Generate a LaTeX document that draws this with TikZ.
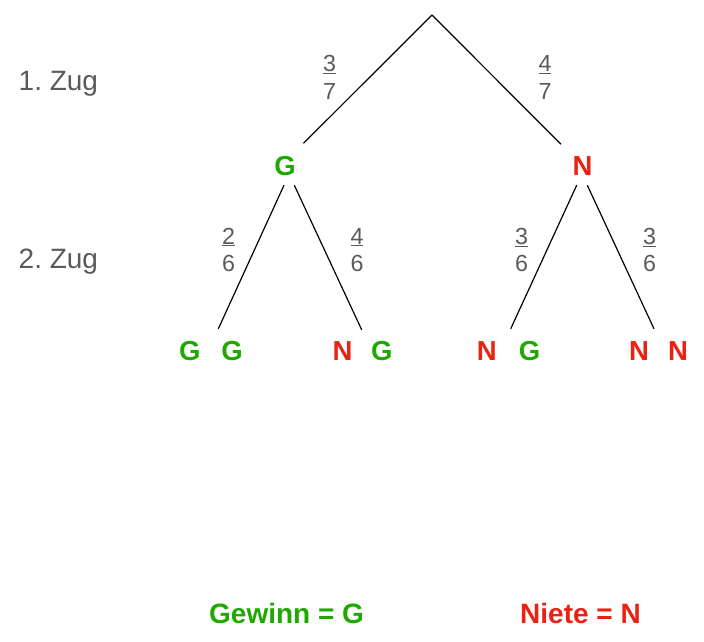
\documentclass[tikz,border=0pt]{standalone}
\usepackage{fontspec}
\setmainfont{Liberation Sans}
\frenchspacing
\definecolor{gwin}{RGB}{30,168,0}
\definecolor{niet}{RGB}{235,34,18}
\definecolor{txtgray}{RGB}{90,90,90}
\tikzset{
  letter/.style={inner sep=0pt, text height=20pt, text depth=0pt, font=\fontsize{27.5}{33}\selectfont\bfseries},
  gw/.style={letter, text=gwin},
  nt/.style={letter, text=niet},
  fracnode/.style={inner sep=0pt, align=center, text=txtgray, font=\fontsize{23.3}{27.6}\selectfont},
  zug/.style={anchor=base west, inner sep=0pt, text=txtgray, font=\fontsize{28}{34}\selectfont},
  legendtext/.style={anchor=base west, inner sep=0pt, font=\fontsize{28}{34}\selectfont\bfseries},
  branch/.style={line width=1.2pt, draw=black},
}
\begin{document}
\begin{tikzpicture}[x=1pt,y=-1pt]
\useasboundingbox (0,0) rectangle (704,641);
% root
\coordinate (root) at (432,15);
% level 1
\node[gw] (G) at (285,165.5) {G};
\node[nt] (N) at (582.5,165.5) {N};
% level 2 leaves
\node[gw] (l1a) at (189.7,350) {G};
\node[gw] (l1b) at (232,350) {G};
\node[nt] (l2a) at (342.5,350) {N};
\node[gw] (l2b) at (381.7,350) {G};
\node[nt] (l3a) at (486.7,350) {N};
\node[gw] (l3b) at (529.5,350) {G};
\node[nt] (l4a) at (639,350) {N};
\node[nt] (l4b) at (678,350) {N};
% branches
\draw[branch] (root) -- ([xshift=18.5pt,yshift=12pt]G.north);
\draw[branch] (root) -- ([xshift=-21.5pt,yshift=11pt]N.north);
\draw[branch] ([xshift=-1pt,yshift=-9.5pt]G.south) -- ([xshift=28.6pt,yshift=11pt]l1a.north);
\draw[branch] ([xshift=9.3pt,yshift=-9.5pt]G.south) -- ([xshift=19.2pt,yshift=10pt]l2a.north);
\draw[branch] ([xshift=-5.8pt,yshift=-9.5pt]N.south) -- ([xshift=24pt,yshift=11pt]l3a.north);
\draw[branch] ([xshift=4.8pt,yshift=-9.5pt]N.south) -- ([xshift=15pt,yshift=11pt]l4a.north);
% probabilities
\node[fracnode] (p1) at (329.5,77.2) {\underline{3}\\7};
\node[fracnode] (p2) at (545,77.2) {\underline{4}\\7};
\node[fracnode] (p3) at (228.5,250) {\underline{2}\\6};
\node[fracnode] (p4) at (357,250) {\underline{4}\\6};
\node[fracnode] (p5) at (521.5,250) {\underline{3}\\6};
\node[fracnode] (p6) at (649.5,250) {\underline{3}\\6};
% row labels
\node[zug] (z1) at (18.5,90) {1. Zug};
\node[zug] (z2) at (18.5,268) {2. Zug};
% legend
\node[legendtext, text=gwin] (lg) at (209,623) {Gewinn = G};
\node[legendtext, text=niet] (ln) at (520,623) {Niete = N};
\end{tikzpicture}
\end{document}
